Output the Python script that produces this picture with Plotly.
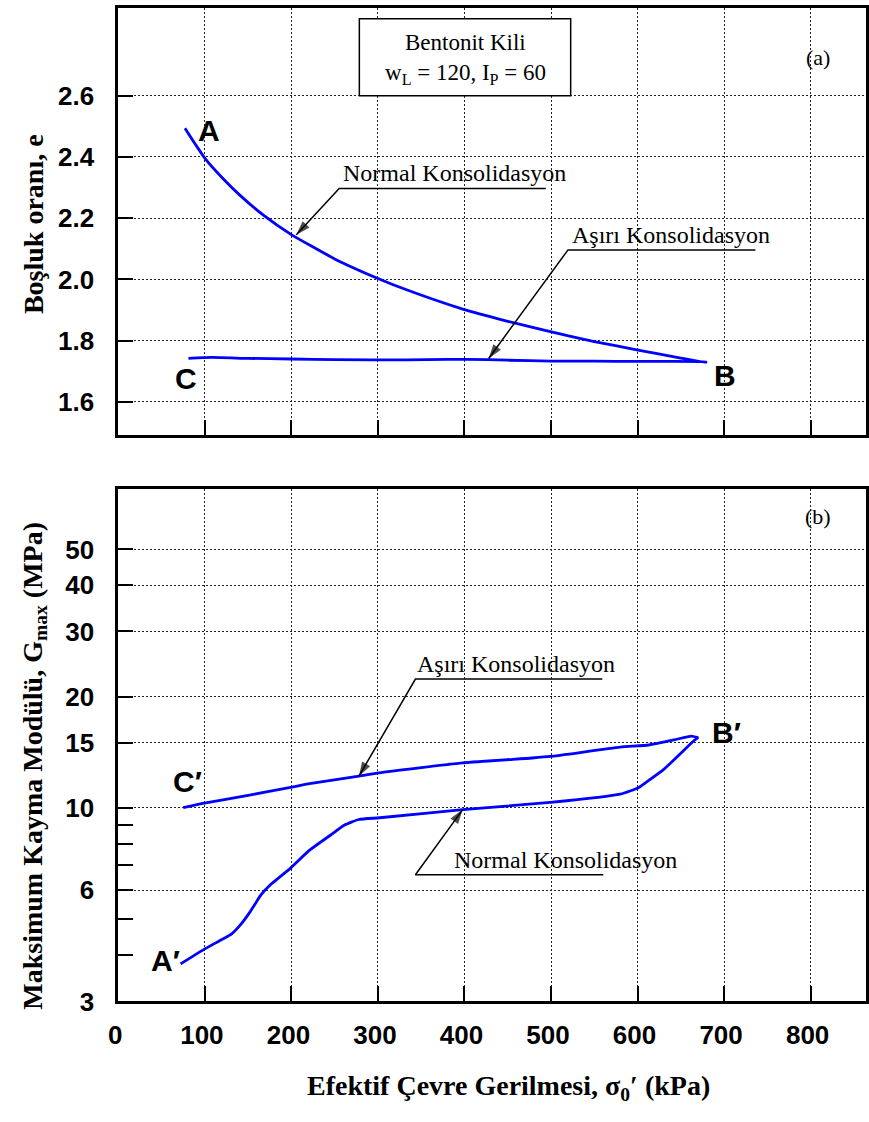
import plotly.graph_objects as go
import math

# ---------------- data ----------------
# Panel (a): void ratio e vs effective confining stress (kPa)
nc_a_x = [77, 90, 101, 120, 140, 168, 199, 250, 300, 333, 398, 450, 498, 550, 599, 650, 679]
nc_a_e = [2.494, 2.437, 2.392, 2.332, 2.276, 2.209, 2.148, 2.067, 2.003, 1.966, 1.903, 1.863, 1.830, 1.797, 1.770, 1.743, 1.729]
oc_a_x = [679, 640, 600, 550, 500, 450, 427, 380, 333, 250, 200, 150, 108, 81]
oc_a_e = [1.730, 1.732, 1.732, 1.733, 1.733, 1.736, 1.738, 1.739, 1.737, 1.738, 1.740, 1.742, 1.745, 1.742]

# Panel (b): Gmax (MPa) vs effective confining stress (kPa)
nc_b_x = [72, 100, 118, 131, 142, 153, 165, 176, 199, 221, 245, 261, 278, 302, 398, 499, 580, 601, 609, 630, 650, 666, 670]
nc_b_g = [3.79, 4.16, 4.39, 4.57, 4.86, 5.27, 5.83, 6.21, 6.88, 7.69, 8.44, 8.98, 9.31, 9.41, 9.90, 10.35, 10.9, 11.35, 11.7, 12.7, 14.06, 15.27, 15.5]
oc_b_x = [670, 662, 642, 613, 580, 499, 478, 398, 301, 278, 221, 199, 150, 101, 75]
oc_b_g = [15.5, 15.65, 15.27, 14.8, 14.6, 13.78, 13.65, 13.24, 12.45, 12.19, 11.64, 11.37, 10.82, 10.32, 10.03]

x_ticks = [0, 100, 200, 300, 400, 500, 600, 700, 800]
e_ticks = [1.6, 1.8, 2.0, 2.2, 2.4, 2.6]
g_ticks = [3, 6, 10, 15, 20, 30, 40, 50]
g_minor = [4, 5, 7, 8, 9]

# callouts: underline right end -> underline left end -> arrow tip on curve
callouts = [
    ("x", "y", [494.0, 255.2, 205.7], [2.297, 2.297, 2.1456]),
    ("x", "y", [736.2, 519.6, 428.0], [2.0963, 2.0963, 1.7418]),
    ("x2", "y2", [559.3, 343.3, 278.0], [22.31, 22.31, 12.19]),
    ("x2", "y2", [560.4, 343.3, 397.9], [6.60, 6.60, 9.9]),
]

W, H = 869, 1122
BLUE = "#0000FF"
SANS = "Liberation Sans, Arial"
SERIF = "Liberation Serif, Times New Roman"

fig = go.Figure()

fig.add_trace(go.Scatter(x=nc_a_x + oc_a_x, y=nc_a_e + oc_a_e, mode="lines",
                         line=dict(color=BLUE, width=2.8, shape="spline", smoothing=0.5),
                         xaxis="x", yaxis="y", showlegend=False))
fig.add_trace(go.Scatter(x=nc_b_x + oc_b_x, y=nc_b_g + oc_b_g, mode="lines",
                         line=dict(color=BLUE, width=2.8, shape="spline", smoothing=0.5),
                         xaxis="x2", yaxis="y2", showlegend=False))

for xa, ya, xs, ys in callouts:
    fig.add_trace(go.Scatter(x=xs, y=ys, mode="lines+markers",
                             line=dict(color="black", width=1.5),
                             marker=dict(symbol=["circle", "circle", "arrow"], size=[0, 0, 15],
                                         angleref="previous", color="black",
                                         line=dict(width=0)),
                             xaxis=xa, yaxis=ya, showlegend=False, hoverinfo="skip"))

grid = dict(showgrid=True, gridcolor="#222", gridwidth=1, griddash="2px,2px")
axline = dict(showline=True, linecolor="black", linewidth=3, mirror=True, zeroline=False,
              ticks="inside", ticklen=15, tickwidth=2, tickcolor="black")
tfont = dict(family=SANS, size=26, color="black", weight="bold")

xdom = [110 / W, 1.0]
ydom_a = [1 - 441 / H, 1 - 8 / H]
ydom_b = [1 - 1015 / H, 1 - 496 / H]
XR = [0, 864]

fig.update_layout(
    width=W, height=H, margin=dict(l=0, r=0, t=0, b=0),
    paper_bgcolor="white", plot_bgcolor="white",
    xaxis=dict(domain=xdom, anchor="y", range=XR, tickvals=x_ticks, showticklabels=False,
               **grid, **axline),
    yaxis=dict(domain=ydom_a, anchor="x", range=[1.4914, 2.8868], tickvals=e_ticks,
               ticktext=[f"{v:.1f}" for v in e_ticks], tickfont=tfont, ticklabelstandoff=16,
               **grid, **axline),
    xaxis2=dict(domain=xdom, anchor="y2", range=XR, tickvals=x_ticks,
                ticktext=[str(v) for v in x_ticks], tickfont=tfont, ticklabelstandoff=8,
                ticklabelshift=-3,
                **grid, **axline),
    yaxis2=dict(domain=ydom_b, anchor="x2", type="log", range=[math.log10(3), 1.8613],
                tickvals=g_ticks, ticktext=[str(v) for v in g_ticks], tickfont=tfont,
                ticklabelstandoff=16,
                minor=dict(tickvals=g_minor, ticks="inside", ticklen=15, tickwidth=2,
                           tickcolor="black", showgrid=False),
                **grid, **axline),
)

# info box
fig.add_shape(type="rect", xref="x", yref="y", x0=278.5, x1=522.7, y0=2.6, y1=2.851,
              line=dict(color="black", width=1.5), fillcolor="white", layer="above")

ann = []
def txt(x, y, s, xref="x", yref="y", size=24, family=SERIF, xanchor="center", yanchor="middle", bold=False, angle=0):
    ann.append(dict(x=x, y=y, xref=xref, yref=yref, text=s, showarrow=False, xanchor=xanchor,
                    yanchor=yanchor, textangle=angle,
                    font=dict(family=family, size=size, color="black", weight="bold" if bold else "normal")))

txt(401, 2.774, "Bentonit Kili", size=23)
txt(401, 2.671, "w<sub>L</sub> = 120, I<sub>P</sub> = 60", size=23)
txt(809, 2.726, "(a)", size=22)
txt(809, math.log10(61.5), "(b)", yref="y2", size=22)

# point labels
txt(104.5, 2.487, "A", size=30, family=SANS, bold=True)
txt(78.6, 1.677, "C", size=30, family=SANS, bold=True)
txt(701, 1.687, "B", size=30, family=SANS, bold=True)
txt(54, math.log10(3.88), "A′", yref="y2", size=30, family=SANS, bold=True)
txt(80, math.log10(11.8), "C′", yref="y2", size=30, family=SANS, bold=True)
txt(703, math.log10(15.95), "B′", yref="y2", size=30, family=SANS, bold=True)

# callout texts
txt(256.8, 2.297, "Normal Konsolidasyon", xanchor="left", yanchor="bottom")
txt(522, 2.0963, "Aşırı Konsolidasyon", xanchor="left", yanchor="bottom")
txt(343.3, math.log10(22.31), "Aşırı Konsolidasyon", yref="y2", xanchor="left", yanchor="bottom")
txt(386, math.log10(6.60), "Normal Konsolidasyon", yref="y2", xanchor="left", yanchor="bottom")

# axis titles
tf = dict(family=SERIF, size=28, color="black", weight="bold")
ann.append(dict(x=24 / W, y=1 - 227.5 / H, xref="paper", yref="paper", text="Boşluk oranı, e",
                xanchor="center", yanchor="middle",
                textangle=-90, showarrow=False, font=tf))
ann.append(dict(x=24 / W, y=1 - 776.5 / H, xref="paper", yref="paper",
                text="Maksimum Kayma Modülü, G<sub>max</sub> (MPa)",
                xanchor="center", yanchor="middle",
                textangle=-90, showarrow=False, font=tf))
ann.append(dict(x=506 / W, y=1 - 1102 / H, xref="paper", yref="paper",
                text="Efektif Çevre Gerilmesi, σ<sub>0</sub>′ (kPa)",
                xanchor="center", yanchor="middle",
                showarrow=False, font=tf))

fig.update_layout(annotations=ann)
fig.write_html("out.html")
